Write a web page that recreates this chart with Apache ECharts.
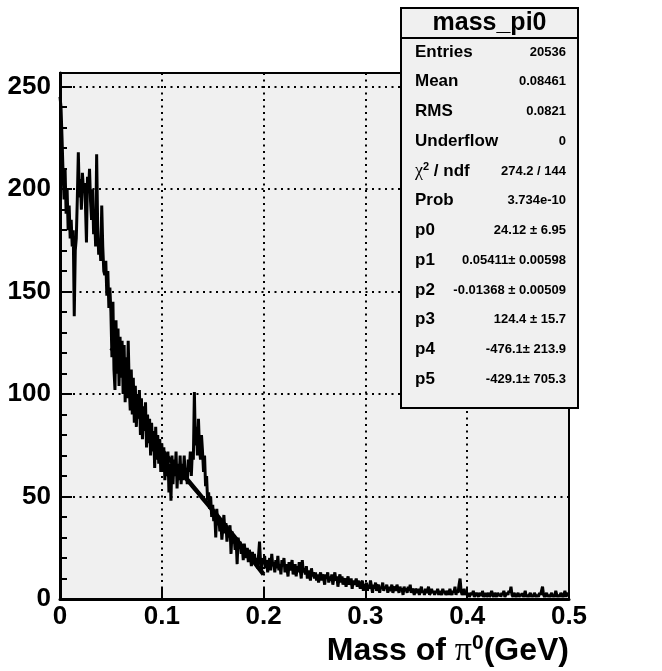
<!DOCTYPE html>
<html><head><meta charset="utf-8">
<script src="https://cdn.jsdelivr.net/npm/echarts@6/dist/echarts.min.js"></script>
<style>html,body{margin:0;padding:0;background:#fff}#c{width:662px;height:671px}</style>
</head><body><div id="c"></div>
<script>
// Histogram mass_pi0 : 500 bins from 0 to 0.5 GeV (bin width 0.001)
const counts_000_050 = [245,240,225,208,195,210,188,200,180,192,176,185,172,180,138,170,176,195,218,196,205,190,208,200,203,192,174,206,198,210,194,185,200,178,188,172,217,182,168,175,165,192,172,160,158,165,148,160,142,152];
const counts_050_100 = [140,118,145,112,102,136,110,132,104,128,108,126,100,124,96,118,98,126,104,92,112,90,108,86,104,84,100,88,102,80,98,78,94,82,96,74,90,76,88,70,86,72,82,64,84,68,80,66,78,62];
const counts_100_150 = [76,62,74,58,70,60,72,52,66,48,70,56,68,60,72,54,66,58,70,56,66,58,70,60,64,56,68,62,72,60,72,68,101,75,84,70,88,74,68,80,72,62,70,55,60,48,52,44,50,40];
const counts_150_200 = [46,38,42,30,44,36,40,33,38,29,35,41,32,37,28,34,30,36,22,33,27,31,24,29,17,30,25,28,22,26,19,27,23,20,25,18,24,21,16,23,19,22,17,20,15,21,28,18,14,20];
const counts_200_250 = [17,21,15,19,13,18,20,14,22,16,18,13,19,15,21,14,17,12,19,16,20,13,17,15,11,18,14,16,19,12,15,17,11,16,13,18,14,10,19,13,15,12,16,10,14,12,9,15,11,13];
const counts_250_300 = [10,13,9,12,8,11,13,9,12,10,7,12,10,13,8,11,9,12,7,10,13,9,11,6,10,12,8,11,7,9,10,6,9,11,7,8,10,5,9,7,8,10,6,9,7,5,8,9,4,7];
const counts_300_350 = [6,8,4,7,5,9,6,3,7,5,8,4,6,7,3,6,5,8,4,6,5,7,3,6,4,5,7,3,5,6,4,7,5,3,6,4,5,2,6,4,5,3,6,4,7,3,5,4,2,5];
const counts_350_400 = [4,3,5,2,4,6,3,4,2,5,3,4,6,2,3,5,3,4,2,4,3,5,2,4,3,2,5,3,4,2,3,4,2,5,3,2,4,3,6,2,4,3,7,10,4,2,3,5,2,3];
const counts_400_450 = [2,3,1,2,3,2,4,1,2,3,2,1,3,2,2,4,1,2,3,1,2,3,1,2,4,2,1,3,2,1,3,2,2,1,3,2,4,1,2,3,2,4,3,6,2,1,3,2,1,2];
const counts_450_500 = [3,1,2,2,3,1,2,4,1,2,1,2,3,1,2,1,3,2,1,2,1,3,2,4,6,2,1,2,3,1,2,1,2,3,1,2,1,4,2,1,2,1,3,2,1,2,4,1,3,2];

// Fit curve (as drawn, 0.05 - 0.20 GeV)
const fitX = [0.05,0.06,0.07,0.08,0.09,0.10,0.11,0.12,0.13,0.14,0.15,0.16,0.17,0.18,0.19,0.20];
const fitY = [122.6,116.3,101.3,87.6,78.8,72.6,66.8,61.1,55.3,49.3,43.3,37.2,31.1,24.8,18.5,12.0];

const xTicks = ['0','0.1','0.2','0.3','0.4','0.5'];
const yTicks = ['0','50','100','150','200','250'];

const statTitle = 'mass_pi0';
const statLabels = ['Entries','Mean','RMS','Underflow','{c|χ}{s|2}{n| / ndf}','Prob','p0','p1','p2','p3','p4','p5'];
const statValues = ['20536','0.08461','0.0821','0','274.2 / 144','3.734e-10','24.12 ± 6.95','0.05411± 0.00598','-0.01368 ± 0.00509','124.4 ± 15.7','-476.1± 213.9','-429.1± 705.3'];

const allCounts = [].concat(counts_000_050,counts_050_100,counts_100_150,counts_150_200,counts_200_250,
  counts_250_300,counts_300_350,counts_350_400,counts_400_450,counts_450_500);
const binW = 0.001;
const histData = allCounts.map((v,i)=>[+(i*binW).toFixed(3), v]);
histData.push([0.5, allCounts[allCounts.length-1]]);
const fitData = fitX.map((x,i)=>[x, fitY[i]]);

const FONT = "'Liberation Sans', Arial, Helvetica, sans-serif";
const SERIF = "'Liberation Serif', 'DejaVu Serif', serif";
const chart = echarts.init(document.getElementById('c'), null, {renderer:'canvas'});

const gridL = 60, gridR = 569, gridT = 73, gridB = 599;
const graphics = [];
// stats box
const bx = 401, by = 8, bw = 177, bh = 400;
graphics.push({type:'rect', shape:{x:bx,y:by,width:bw,height:bh}, style:{fill:'#f0f0f0', stroke:'#000', lineWidth:2}, z:100});
graphics.push({type:'line', shape:{x1:bx,y1:38,x2:bx+bw,y2:38}, style:{stroke:'#000', lineWidth:2}, z:101});
graphics.push({type:'text', z:102, style:{text:statTitle, x:bx+bw/2, y:23, textAlign:'center', textVerticalAlign:'middle', font:'bold 25px '+FONT, fill:'#000'}});
statLabels.forEach((lab,i)=>{
  const y = 52 + i*29.75;
  graphics.push({type:'text', z:102, style:{text:lab, x:415, y:y, textAlign:'left', textVerticalAlign:'middle', font:'bold 17px '+FONT, fill:'#000',
    rich:{c:{fontFamily:SERIF, fontSize:18, fontWeight:'normal'}, s:{fontFamily:FONT, fontSize:11, fontWeight:'bold', padding:[0,0,9,0]}, n:{fontFamily:FONT, fontSize:17, fontWeight:'bold'}}}});
  graphics.push({type:'text', z:102, style:{text:statValues[i], x:566, y:y, textAlign:'right', textVerticalAlign:'middle', font:'bold 13px '+FONT, fill:'#000'}});
});
// x axis title
graphics.push({type:'text', z:50, style:{text:'{a|Mass of }{p|π}{s|0}{a|(GeV)}', x:569, y:651, textAlign:'right', textVerticalAlign:'middle',
  rich:{a:{fontFamily:FONT, fontWeight:'bold', fontSize:32, fill:'#000'}, p:{fontFamily:SERIF, fontSize:34, fill:'#000'}, s:{fontFamily:FONT, fontWeight:'bold', fontSize:21, padding:[0,0,15,0], fill:'#000'}}}});

const option = {
  animation:false,
  backgroundColor:'#ffffff',
  grid:{left:gridL, right:662-gridR, top:gridT, bottom:671-gridB, show:true, backgroundColor:'#f0f0f0', borderColor:'#000', borderWidth:2},
  xAxis:{type:'value', min:0, max:0.5, interval:0.1,
    axisLine:{show:true, lineStyle:{color:'#000', width:3}},
    axisTick:{show:true, inside:true, length:12, lineStyle:{color:'#000', width:2}},
    axisLabel:{color:'#000', fontFamily:FONT, fontWeight:'bold', fontSize:26, margin:5,
      formatter:(v)=>{const k=Math.round(v*10); return Math.abs(v*10-k)<1e-6 ? xTicks[k] : '';}},
    splitLine:{show:true, lineStyle:{color:'#000', width:2, type:[2,4.5]}}},
  yAxis:{type:'value', min:0, max:256.7, interval:50,
    axisLine:{show:true, lineStyle:{color:'#000', width:3}},
    axisTick:{show:true, inside:true, length:12, lineStyle:{color:'#000', width:2}},
    minorTick:{show:true, splitNumber:5, length:7, lineStyle:{color:'#000', width:2}},
    axisLabel:{color:'#000', fontFamily:FONT, fontWeight:'bold', fontSize:26, margin:9,
      formatter:(v)=>{const k=Math.round(v/50); return Math.abs(v-k*50)<1e-6 ? yTicks[k] : '';}},
    splitLine:{show:true, lineStyle:{color:'#000', width:2, type:[2,4.5]}}},
  series:[
    {type:'line', data:histData, step:'end', symbol:'none', lineStyle:{color:'#000', width:3}, z:3},
    {type:'line', data:fitData, smooth:true, symbol:'none', lineStyle:{color:'#000', width:4.5}, z:4}
  ],
  graphic:graphics
};
chart.setOption(option);
</script></body></html>
